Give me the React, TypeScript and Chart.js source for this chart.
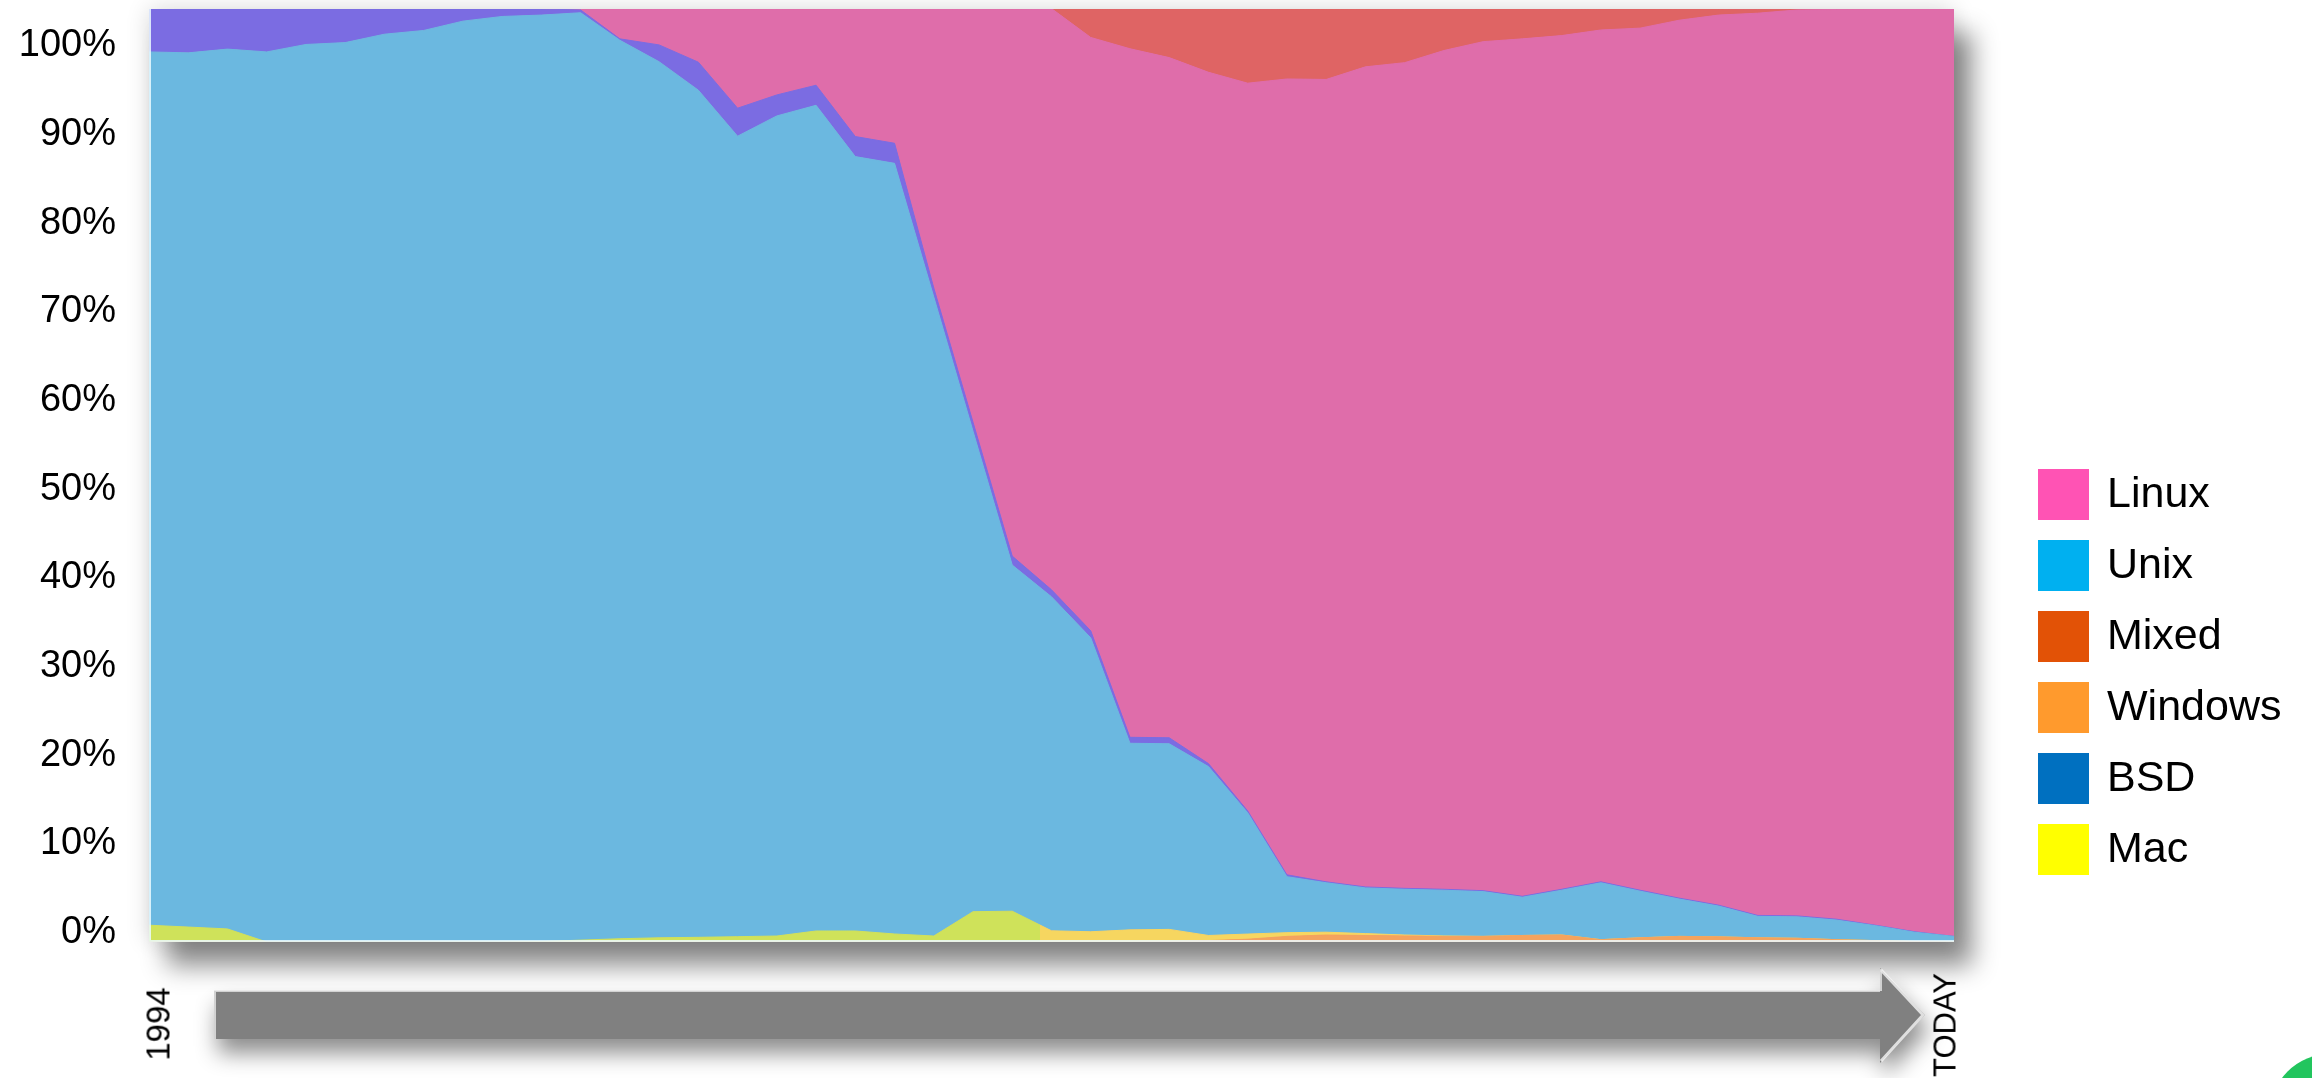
import React, { useEffect, useRef } from 'react';
import { Chart, registerables } from 'chart.js';

Chart.register(...registerables);

const FONT = "'Liberation Sans', Arial, Helvetica, sans-serif";

// TOP500 lists (twice a year), first to last
const listDates = [
  '1994-06', '1994-11', '1995-06', '1995-11', '1996-06', '1996-11', '1997-06', '1997-11',
  '1998-06', '1998-11', '1999-06', '1999-11', '2000-06', '2000-11', '2001-06', '2001-11',
  '2002-06', '2002-11', '2003-06', '2003-11', '2004-06', '2004-11', '2005-06', '2005-11',
  '2006-06', '2006-11', '2007-06', '2007-11', '2008-06', '2008-11', '2009-06', '2009-11',
  '2010-06', '2010-11', '2011-06', '2011-11', '2012-06', '2012-11', '2013-06', '2013-11',
  '2014-06', '2014-11', '2015-06', '2015-11', '2016-06', '2016-11', '2017-06',
];

// share of systems (%), stacked bottom -> top: Windows, Mac, Unix, BSD, Linux, Mixed
const windowsShare = [
  0, 0, 0, 0, 0, 0, 0, 0, 0, 0, 0, 0, 0, 0, 0, 0, 0, 0, 0, 0, 0, 0, 0, 0, 0, 0,
  0.05, 0.15, 0.3, 0.6, 0.75, 0.7, 0.65, 0.6, 0.6, 0.7, 0.75, 0.25, 0.45, 0.6, 0.55,
  0.45, 0.4, 0.25, 0.15, 0.05, 0,
];
const macShare = [
  1.8, 1.6, 1.4, 0, 0, 0, 0, 0, 0, 0, 0.05, 0.2, 0.35, 0.45, 0.5, 0.57, 0.64, 1.18,
  1.18, 0.86, 0.64, 3.25, 3.3, 1.2, 1.1, 1.3, 1.3, 0.55, 0.55, 0.4, 0.3, 0.2, 0.1, 0.05,
  0, 0, 0, 0, 0, 0, 0, 0, 0, 0, 0, 0, 0,
];
const unixShare = [
  93.6, 93.7, 94.3, 95.4, 96.2, 96.4, 97.3, 97.7, 98.7, 99.2, 99.3, 99.4, 96.3, 93.9,
  90.8, 85.8, 87.9, 88.5, 83.0, 82.6, 68.5, 51.5, 37.1, 35.8, 31.5, 20.0, 19.9, 18.1,
  13.0, 6.0, 5.3, 4.9, 4.9, 4.9, 4.8, 4.1, 4.8, 6.1, 5.0, 4.0, 3.3, 2.3, 2.3, 2.1, 1.6,
  1.0, 0.6,
];
const bsdShare = [
  4.6, 4.7, 4.3, 4.6, 3.8, 3.6, 2.7, 2.3, 1.3, 0.8, 0.65, 0.3, 0.15, 1.8, 3.0, 3.0,
  2.25, 2.15, 2.15, 2.15, 0.96, 0.96, 0.96, 0.75, 0.75, 0.64, 0.64, 0.32, 0.2, 0.2,
  0.1, 0.1, 0.1, 0.1, 0.1, 0.1, 0.1, 0.1, 0.1, 0.1, 0.1, 0.1, 0.1, 0.1, 0.05, 0.05, 0,
];
const linuxShare = [
  0, 0, 0, 0, 0, 0, 0, 0, 0, 0, 0, 0.1, 3.2, 3.9, 5.7, 10.6, 9.2, 8.15, 13.7, 14.4,
  29.9, 44.3, 58.6, 62.3, 63.6, 73.8, 72.9, 74.1, 78.0, 85.3, 86.0, 87.9, 88.5, 89.9,
  91.0, 91.9, 91.5, 91.3, 92.4, 94.1, 95.4, 96.7, 97.1, 97.5, 98.2, 98.9, 99.4,
];
const mixedShare = [
  0, 0, 0, 0, 0, 0, 0, 0, 0, 0, 0, 0, 0, 0, 0, 0, 0, 0, 0, 0, 0, 0, 0, 0,
  3.1, 4.2, 5.3, 6.8, 7.9, 7.5, 7.6, 6.2, 5.7, 4.4, 3.5, 3.2, 2.8, 2.3, 2.1, 1.2, 0.65,
  0.4, 0.1, 0, 0, 0, 0,
];

// y-axis tick labels
const yTickValues = [0, 10, 20, 30, 40, 50, 60, 70, 80, 90, 100];
const yTickLabels = ['0%', '10%', '20%', '30%', '40%', '50%', '60%', '70%', '80%', '90%', '100%'];

// timeline labels
const startLabel = '1994';
const endLabel = 'TODAY';

// legend
const legendNames = ['Linux', 'Unix', 'Mixed', 'Windows', 'BSD', 'Mac'];
const legendColors = ['#FF53B4', '#00B0F0', '#E25206', '#FF9A2D', '#0070C0', '#FFFF00'];

// area fills as they appear in the plot
const fillColors = {
  Windows: '#F4A35E',
  Mac: '#CFE25A',
  MacLate: '#F6D660',
  Unix: '#6BB8E0',
  BSD: '#7B6CE2',
  Linux: '#DF6DAA',
  Mixed: '#DF6464',
};
// list index from which the Mac band is drawn in the lighter yellow
const macLateFrom = 22.7;

const framePlugin = {
  id: 'frame',
  beforeDraw(chart: any) {
    const { ctx, chartArea: a } = chart;
    ctx.save();
    // soft glow all around
    ctx.shadowColor = 'rgba(0,0,0,0.16)';
    ctx.shadowBlur = 22;
    ctx.shadowOffsetX = 0;
    ctx.shadowOffsetY = 0;
    ctx.fillStyle = fillColors.Linux;
    ctx.fillRect(a.left, a.top, a.right - a.left, a.bottom - a.top);
    // drop shadow bottom-right
    ctx.shadowColor = 'rgba(0,0,0,0.45)';
    ctx.shadowBlur = 24;
    ctx.shadowOffsetX = 18;
    ctx.shadowOffsetY = 24;
    ctx.fillRect(a.left, a.top, a.right - a.left, a.bottom - a.top);
    ctx.restore();

    // timeline arrow
    const x0 = 214, xh = 1880, xt = 1925;
    const bt = 991, bb = 1039, ht = 968, hb = 1063, ym = 1015;
    ctx.save();
    ctx.shadowColor = 'rgba(0,0,0,0.45)';
    ctx.shadowBlur = 22;
    ctx.shadowOffsetX = 4;
    ctx.shadowOffsetY = 14;
    ctx.beginPath();
    ctx.moveTo(x0, bt);
    ctx.lineTo(xh, bt);
    ctx.lineTo(xh, ht);
    ctx.lineTo(xt, ym);
    ctx.lineTo(xh, hb);
    ctx.lineTo(xh, bb);
    ctx.lineTo(x0, bb);
    ctx.closePath();
    ctx.fillStyle = '#808080';
    ctx.fill();
    ctx.restore();
    ctx.save();
    ctx.lineWidth = 3;
    ctx.strokeStyle = 'rgba(255,255,255,0.75)';
    ctx.beginPath();
    ctx.moveTo(xh + 1, ht + 2);
    ctx.lineTo(xt - 2, ym);
    ctx.lineTo(xh + 1, hb - 2);
    ctx.stroke();
    ctx.lineWidth = 2;
    ctx.strokeStyle = 'rgba(230,230,230,0.8)';
    ctx.beginPath();
    ctx.moveTo(xh + 1, bt);
    ctx.lineTo(xh + 1, ht + 1);
    ctx.moveTo(x0 + 1, bb);
    ctx.lineTo(x0 + 1, bt);
    ctx.lineTo(xh, bt);
    ctx.stroke();
    ctx.restore();
  },
  afterDatasetsDraw(chart: any) {
    const { ctx, chartArea: a } = chart;
    ctx.save();
    ctx.strokeStyle = 'rgba(235,250,255,0.85)';
    ctx.lineWidth = 2;
    ctx.beginPath();
    ctx.moveTo(a.left + 1, a.top);
    ctx.lineTo(a.left + 1, a.bottom - 1);
    ctx.lineTo(a.right, a.bottom - 1);
    ctx.stroke();
    ctx.restore();
  },
};

function macPaint(c: any) {
  const chart = c.chart;
  const a = chart.chartArea;
  const xs = chart.scales && chart.scales.x;
  if (!a || !xs) return fillColors.Mac;
  const px = xs.getPixelForValue(macLateFrom);
  const t = Math.min(1, Math.max(0, (px - a.left) / (a.right - a.left)));
  const g = chart.ctx.createLinearGradient(a.left, 0, a.right, 0);
  g.addColorStop(0, fillColors.Mac);
  g.addColorStop(t, fillColors.Mac);
  g.addColorStop(t, fillColors.MacLate);
  g.addColorStop(1, fillColors.MacLate);
  return g;
}

function area(label: string, data: number[], color: any, fill: string | boolean) {
  return {
    label,
    data,
    backgroundColor: color,
    borderColor: color,
    borderWidth: 1,
    pointRadius: 0,
    pointHoverRadius: 0,
    tension: 0,
    fill,
    yAxisID: 'y',
  };
}

export default function App() {
  const canvasRef = useRef<HTMLCanvasElement>(null);

  useEffect(() => {
    const canvas = canvasRef.current;
    if (!canvas) return;
    const chart = new Chart(canvas, {
      type: 'line',
      data: {
        labels: listDates,
        datasets: [
          area('Windows', windowsShare, fillColors.Windows, 'origin'),
          area('Mac', macShare, macPaint, '-1'),
          area('Unix', unixShare, fillColors.Unix, '-1'),
          area('BSD', bsdShare, fillColors.BSD, '-1'),
          area('Linux', linuxShare, fillColors.Linux, '-1'),
          area('Mixed', mixedShare, fillColors.Mixed, '-1'),
        ],
      },
      options: {
        animation: false,
        responsive: false,
        maintainAspectRatio: false,
        events: [],
        layout: { padding: { left: 0, top: 9, right: 358, bottom: 136 } },
        plugins: {
          legend: { display: false },
          tooltip: { enabled: false },
        },
        scales: {
          x: { type: 'category', display: false, offset: false },
          y: { type: 'linear', display: false, stacked: true, min: 0, max: 100 },
          yTicks: {
            type: 'linear',
            position: 'left',
            min: -1.07,
            max: 104.17,
            grid: { display: false, drawTicks: false },
            border: { display: false },
            afterBuildTicks: (s: any) => {
              s.ticks = yTickValues.map((v) => ({ value: v }));
            },
            afterFit: (s: any) => {
              s.width = 149;
              s.paddingTop = 0;
              s.paddingBottom = 0;
            },
            ticks: {
              padding: 33,
              color: '#000',
              font: { family: FONT, size: 38 },
              callback: (_v: any, i: number) => yTickLabels[i],
            },
          },
        },
      } as any,
      plugins: [framePlugin],
    });
    return () => chart.destroy();
  }, []);

  const rotated = (cx: number, cy: number, size: number): React.CSSProperties => ({
    position: 'absolute',
    left: cx,
    top: cy,
    transform: 'translate(-50%, -50%) rotate(-90deg)',
    fontFamily: FONT,
    fontSize: size,
    lineHeight: 1,
    whiteSpace: 'nowrap',
    color: '#000',
  });

  return (
    <div
      style={{
        position: 'absolute',
        left: 0,
        top: 0,
        width: 2312,
        height: 1078,
        overflow: 'hidden',
        background: '#fff',
        fontFamily: FONT,
      }}
    >
      <canvas
        ref={canvasRef}
        width={2312}
        height={1078}
        style={{ position: 'absolute', left: 0, top: 0, width: 2312, height: 1078 }}
      />
      {legendNames.map((name, k) => (
        <div key={name} style={{ position: 'absolute', left: 2038, top: 469 + k * 71, height: 51 }}>
          <div style={{ position: 'absolute', left: 0, top: 0, width: 51, height: 51, background: legendColors[k] }} />
          <div
            style={{
              position: 'absolute',
              left: 69,
              top: 0,
              fontSize: 43,
              lineHeight: '46px',
              whiteSpace: 'nowrap',
              color: '#000',
            }}
          >
            {name}
          </div>
        </div>
      ))}
      <div style={rotated(158, 1024, 33)}>{startLabel}</div>
      <div style={rotated(1945, 1025, 31)}>{endLabel}</div>
      <div
        style={{
          position: 'absolute',
          left: 2270,
          top: 1054,
          width: 120,
          height: 120,
          borderRadius: '50%',
          background: '#22C55E',
        }}
      />
    </div>
  );
}
